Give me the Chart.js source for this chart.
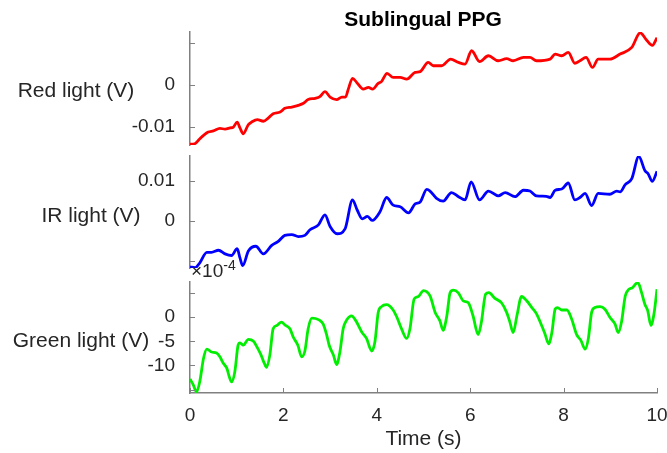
<!DOCTYPE html>
<html>
<head>
<meta charset="utf-8">
<script src="https://cdn.jsdelivr.net/npm/chart.js@4.4.0/dist/chart.umd.min.js"></script>
<style>
  html, body { margin: 0; padding: 0; background: #fff; }
  #wrap { position: relative; width: 667px; height: 453px; overflow: hidden;
          font-family: "Liberation Sans", Arial, sans-serif; color: #262626; }
  #wrap canvas { position: absolute; left: 0; top: 0; }
  .lbl { position: absolute; white-space: nowrap; line-height: 1; font-size: 21px;
         transform: translate(-50%, -50%); }
  #title { font-weight: bold; color: #000; }
  #expo { position: absolute; left: 191px; top: 261px; font-size: 19px; line-height: 1; white-space: nowrap; }
  #expo span { position: relative; top: -7px; font-size: 14px; }
</style>
</head>
<body>
<div id="wrap">
  <canvas id="red-chart" width="667" height="453"></canvas>
  <canvas id="ir-chart" width="667" height="453"></canvas>
  <canvas id="green-chart" width="667" height="453"></canvas>
  <div class="lbl" id="title" style="left:423px; top:18px">Sublingual PPG</div>
  <div class="lbl" style="left:76px; top:89px">Red light (V)</div>
  <div class="lbl" style="left:91px; top:214px">IR light (V)</div>
  <div class="lbl" style="left:81px; top:339px">Green light (V)</div>
  <div id="expo">×10<span>-4</span></div>
</div>
<script>
// ---------------------------------------------------------------------------
// Data
// ---------------------------------------------------------------------------

// Red light (V)
const redTime = [0, 0.1, 0.2, 0.29, 0.39, 0.5, 0.64, 0.75, 0.86, 0.93, 1.01, 1.07, 1.14, 1.25, 1.32, 1.44, 1.57, 1.68, 1.78, 1.93,
    2.03, 2.18, 2.32, 2.43, 2.53, 2.68, 2.78, 2.89, 3.0, 3.14, 3.25, 3.33, 3.39, 3.48, 3.57, 3.71, 3.82, 3.91, 4.03, 4.1,
    4.22, 4.35, 4.5, 4.64, 4.82, 4.93, 5.1, 5.21, 5.39, 5.58, 5.75, 5.89, 6.03, 6.2, 6.39, 6.6, 6.78, 6.92, 7.14, 7.28,
    7.42, 7.71, 7.82, 7.96, 8.1, 8.24, 8.35, 8.48, 8.62, 8.74, 8.99, 9.21, 9.46, 9.64, 9.78, 9.9, 10.0];
const redVolts = [-0.0142, -0.0141, -0.0130, -0.0121, -0.0113, -0.0110, -0.0104, -0.0106, -0.0103, -0.0101, -0.0089, -0.0103, -0.0117, -0.0095, -0.0089, -0.0083, -0.0087, -0.0079, -0.0069, -0.0065,
    -0.0056, -0.0053, -0.0049, -0.0044, -0.0035, -0.0032, -0.0028, -0.0016, -0.0029, -0.0035, -0.0029, -0.0029, -0.0010, 0.0016, 0.0006, -0.0010, -0.0006, -0.0010, 0.0004, 0.0008,
    0.0028, 0.0018, 0.0018, 0.0014, 0.0030, 0.0032, 0.0054, 0.0046, 0.0046, 0.0062, 0.0054, 0.0050, 0.0082, 0.0056, 0.0070, 0.0058, 0.0063, 0.0058, 0.0066, 0.0066,
    0.0058, 0.0062, 0.0074, 0.0070, 0.0078, 0.0052, 0.0058, 0.0066, 0.0042, 0.0062, 0.0062, 0.0074, 0.0090, 0.0125, 0.0107, 0.0095, 0.0113];

// IR light (V)
const irTime = [0, 0.11, 0.21, 0.36, 0.46, 0.61, 0.75, 0.89, 1.01, 1.07, 1.13, 1.25, 1.41, 1.57, 1.75, 1.89, 2.03, 2.18, 2.32, 2.46,
    2.57, 2.75, 2.89, 3.0, 3.15, 3.32, 3.48, 3.58, 3.69, 3.8, 3.9, 4.07, 4.21, 4.35, 4.5, 4.68, 4.82, 4.93, 5.07, 5.14,
    5.28, 5.42, 5.6, 5.75, 5.89, 6.02, 6.2, 6.39, 6.6, 6.75, 6.96, 7.14, 7.28, 7.42, 7.63, 7.71, 7.82, 7.96, 8.1, 8.24,
    8.35, 8.46, 8.6, 8.74, 8.99, 9.14, 9.21, 9.32, 9.46, 9.61, 9.74, 9.81, 9.9, 10.0];
const irVolts = [-0.0114, -0.0116, -0.0104, -0.0078, -0.0078, -0.0073, -0.0082, -0.0086, -0.0069, -0.0092, -0.0111, -0.0075, -0.0063, -0.0082, -0.0061, -0.0051, -0.0036, -0.0034, -0.0039, -0.0036,
    -0.0022, -0.0010, 0.0015, -0.0014, -0.0032, -0.0020, 0.0052, 0.0027, 0.0005, 0.0011, 0.0001, 0.0023, 0.0058, 0.0039, 0.0035, 0.0020, 0.0042, 0.0047, 0.0078, 0.0074,
    0.0056, 0.0049, 0.0070, 0.0060, 0.0052, 0.0097, 0.0052, 0.0074, 0.0062, 0.0070, 0.0060, 0.0076, 0.0074, 0.0062, 0.0061, 0.0058, 0.0076, 0.0079, 0.0094, 0.0052,
    0.0058, 0.0068, 0.0038, 0.0068, 0.0066, 0.0074, 0.0072, 0.0090, 0.0105, 0.0160, 0.0125, 0.0117, 0.0098, 0.0123];

// Green light, in units of 1e-4 V (axis shows the x10^-4 multiplier)
const greenTime = [0, 0.07, 0.14, 0.21, 0.29, 0.36, 0.46, 0.57, 0.64, 0.71, 0.79, 0.84, 0.89, 0.96, 1.03, 1.07, 1.14, 1.25, 1.36, 1.43,
    1.52, 1.59, 1.64, 1.71, 1.78, 1.86, 1.96, 2.03, 2.14, 2.21, 2.31, 2.39, 2.46, 2.53, 2.61, 2.75, 2.85, 2.93, 2.98, 3.07,
    3.14, 3.21, 3.28, 3.36, 3.46, 3.55, 3.68, 3.78, 3.89, 3.96, 4.03, 4.1, 4.21, 4.35, 4.43, 4.53, 4.64, 4.71, 4.8, 4.89,
    5.0, 5.14, 5.25, 5.35, 5.42, 5.5, 5.57, 5.64, 5.75, 5.85, 5.96, 6.06, 6.17, 6.24, 6.33, 6.4, 6.53, 6.67, 6.78, 6.85,
    6.92, 7.0, 7.1, 7.21, 7.32, 7.42, 7.53, 7.6, 7.68, 7.75, 7.82, 7.87, 7.96, 8.07, 8.17, 8.28, 8.37, 8.46, 8.53, 8.6,
    8.67, 8.78, 8.89, 8.99, 9.1, 9.17, 9.24, 9.32, 9.39, 9.47, 9.59, 9.67, 9.74, 9.8, 9.87, 9.94, 10.0];
const greenVolts = [-12.8, -14.0, -15.5, -13.3, -8.5, -6.6, -7.2, -7.4, -8.2, -9.5, -10.6, -12.3, -13.4, -11.3, -5.8, -5.3, -5.8, -4.6, -5.0, -6.1,
    -7.8, -9.5, -10.4, -7.8, -2.4, -1.7, -1.0, -1.6, -2.4, -4.1, -5.8, -8.2, -7.0, -2.4, -0.2, -0.5, -1.4, -3.8, -5.8, -7.8,
    -9.8, -7.2, -2.4, -0.5, 0.3, -0.7, -3.1, -4.4, -7.0, -5.1, 1.0, 2.2, 2.6, 1.5, 0.0, -2.4, -4.4, -2.4, 3.8, 4.3,
    5.5, 4.4, 1.0, -0.7, -2.7, 0.3, 5.1, 5.6, 5.0, 3.4, 3.0, 0.3, -3.6, -1.0, 4.8, 5.1, 3.9, 3.0, 1.0, -1.0,
    -3.2, 0.3, 4.3, 3.4, 2.0, 0.7, -1.7, -3.4, -5.5, -3.1, 1.7, 2.0, 1.5, 1.5, -0.3, -3.6, -4.8, -6.6, -4.4, 1.0,
    2.0, 2.2, 1.6, 0.0, -1.4, -3.2, -1.0, 4.4, 5.7, 6.1, 7.2, 5.1, 2.7, 1.4, -1.7, 1.0, 5.8];

// Tick values and labels
const xTickVals = [0, 2, 4, 6, 8, 10];
const xTickLabels = ["0", "2", "4", "6", "8", "10"];
const redTickVals = [-0.01, 0, 0.01];
const redTickLabels = ["-0.01", "0", ""];
const irTickVals = [-0.01, 0, 0.01];
const irTickLabels = ["", "0", "0.01"];
const greenTickVals = [-15, -10, -5, 0, 5];
const greenTickLabels = ["", "-10", "-5", "0", ""];

// ---------------------------------------------------------------------------
// Shared styling
// ---------------------------------------------------------------------------

const FONT = '"Liberation Sans", Arial, sans-serif';
const TEXT = "#262626";
const AXIS_GRAY = "#808080";
const AXIS_LEFT = 190;   // chart area left edge (px)
const RIGHT_PAD = 10;

// MATLAB-style tick marks pointing into the plot
const inwardTicks = {
    id: "inwardTicks",
    afterDraw(chart) {
        const c = chart.ctx;
        const area = chart.chartArea;
        c.save();
        c.strokeStyle = AXIS_GRAY;
        c.lineWidth = 1;
        const y = chart.scales.y;
        y.ticks.forEach((t) => {
            const py = Math.round(y.getPixelForValue(t.value)) + 0.5;
            c.beginPath();
            c.moveTo(area.left, py);
            c.lineTo(area.left + 5, py);
            c.stroke();
        });
        const x = chart.scales.x;
        if (x.options.display) {
            x.ticks.forEach((t) => {
                const px = Math.round(x.getPixelForValue(t.value)) + 0.5;
                c.beginPath();
                c.moveTo(px, area.bottom);
                c.lineTo(px, area.bottom - 5);
                c.stroke();
            });
        }
        c.restore();
    },
};

function yAxis(min, max, tickVals, tickLabels) {
    return {
        position: "left",
        min: min,
        max: max,
        grid: { display: false },
        border: { display: true, color: AXIS_GRAY, width: 1.5 },
        afterBuildTicks: (s) => { s.ticks = tickVals.map((v) => ({ value: v })); },
        afterFit: (s) => { s.width = AXIS_LEFT; s.paddingTop = 0; s.paddingBottom = 0; },
        ticks: {
            autoSkip: false,
            padding: 7,
            color: TEXT,
            font: { family: FONT, size: 19 },
            callback: (v, i) => tickLabels[i],
        },
    };
}

function hiddenX() {
    return { type: "linear", min: 0, max: 10, display: false };
}

function bottomX() {
    return {
        type: "linear",
        min: 0,
        max: 10,
        grid: { display: false },
        border: { display: true, color: AXIS_GRAY, width: 1.5 },
        afterBuildTicks: (s) => { s.ticks = xTickVals.map((v) => ({ value: v })); },
        afterFit: (s) => { s.height = 58.6; s.paddingLeft = 0; s.paddingRight = 0; },
        ticks: {
            autoSkip: false,
            maxRotation: 0,
            padding: 3,
            color: TEXT,
            font: { family: FONT, size: 19 },
            callback: (v, i) => xTickLabels[i],
        },
        title: {
            display: true,
            text: "Time (s)",
            color: TEXT,
            padding: 0,
            font: { family: FONT, size: 21 },
        },
    };
}

function makePanel(canvasId, times, values, color, xScale, yScale, pad) {
    return new Chart(document.getElementById(canvasId).getContext("2d"), {
        type: "line",
        data: {
            datasets: [{
                data: times.map((t, i) => ({ x: t, y: values[i] })),
                borderColor: color,
                borderWidth: 2.8,
                pointRadius: 0,
                fill: false,
                cubicInterpolationMode: "monotone",
            }],
        },
        options: {
            responsive: false,
            animation: false,
            events: [],
            layout: { padding: pad },
            plugins: { legend: { display: false }, tooltip: { enabled: false }, title: { display: false } },
            scales: { x: xScale, y: yScale },
        },
        plugins: [inwardTicks],
    });
}

// ---------------------------------------------------------------------------
// Panels
// ---------------------------------------------------------------------------

makePanel("red-chart", redTime, redVolts, "#ff0000", hiddenX(),
    yAxis(-0.0144, 0.0127, redTickVals, redTickLabels),
    { top: 32, bottom: 308, left: 0, right: RIGHT_PAD });

makePanel("ir-chart", irTime, irVolts, "#0000ff", hiddenX(),
    yAxis(-0.0117, 0.0161, irTickVals, irTickLabels),
    { top: 156, bottom: 185, left: 0, right: RIGHT_PAD });

makePanel("green-chart", greenTime, greenVolts, "#00ee00", bottomX(),
    yAxis(-15.7, 7.3, greenTickVals, greenTickLabels),
    { top: 282, bottom: 1.4, left: 0, right: RIGHT_PAD });
</script>
</body>
</html>
